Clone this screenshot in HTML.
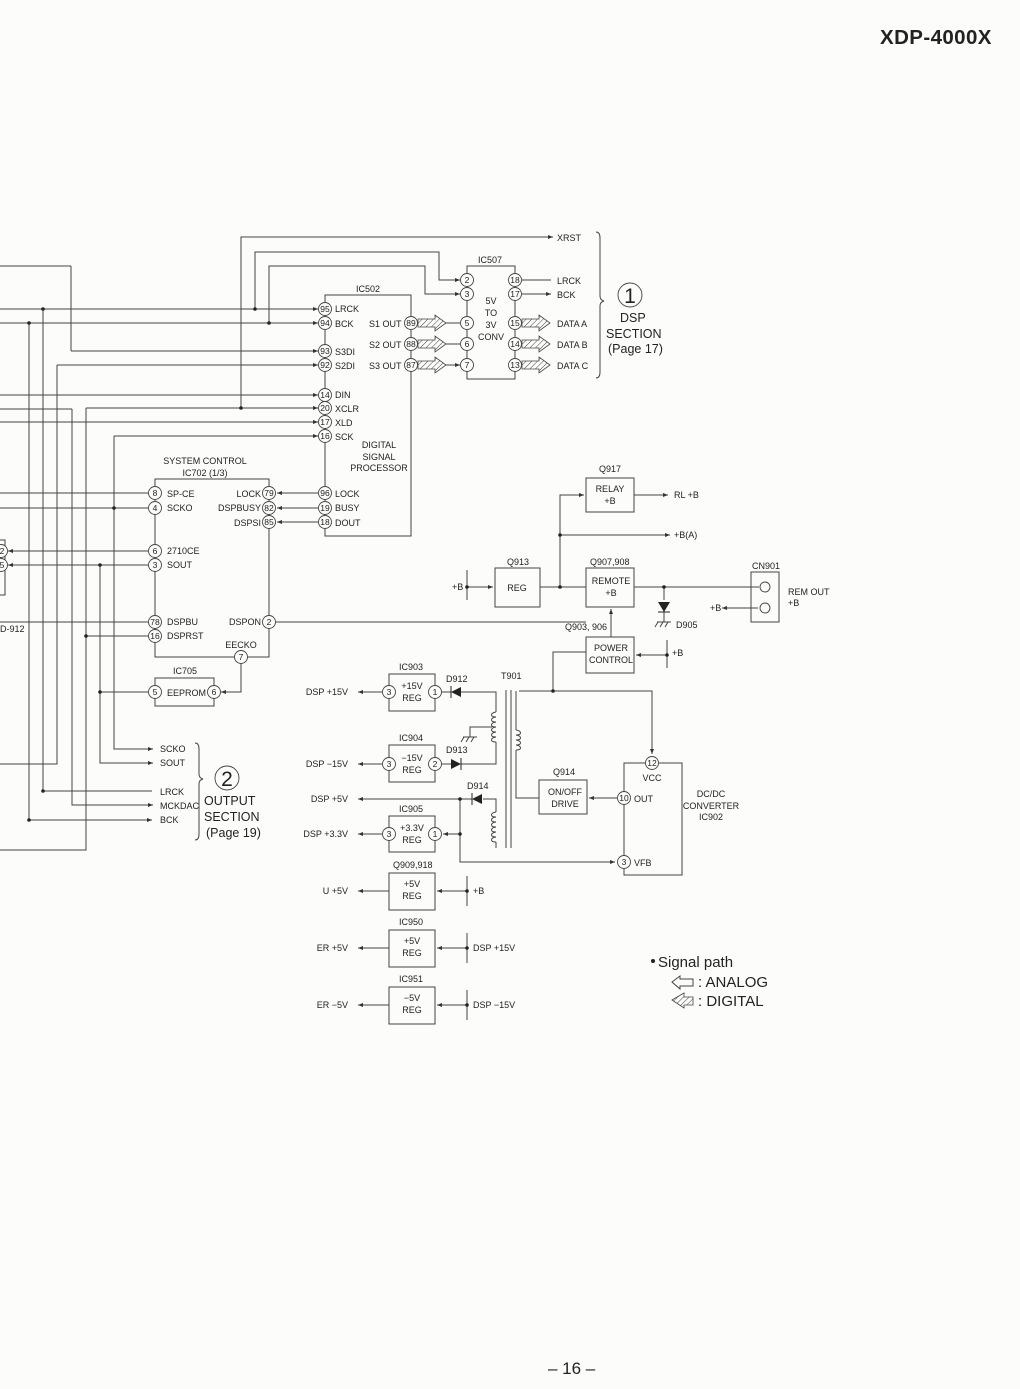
<!DOCTYPE html>
<html><head><meta charset="utf-8"><style>
html,body{margin:0;padding:0;background:#fcfcfa;}
svg{display:block}
text{font-family:"Liberation Sans",sans-serif;fill:#222;}
.s{font-size:9px}
.p{font-size:8.5px;text-anchor:middle}
</style></head><body>
<svg width="1020" height="1389" viewBox="0 0 1020 1389" xmlns="http://www.w3.org/2000/svg">
<defs>
<marker id="a" viewBox="0 0 10 10" refX="10" refY="5" markerWidth="5" markerHeight="5" orient="auto"><path d="M0,1 L10,5 L0,9 z" fill="#333"/></marker>
<pattern id="h" width="4" height="4" patternUnits="userSpaceOnUse" patternTransform="rotate(45)"><line x1="0" y1="0" x2="0" y2="4" stroke="#444" stroke-width="1"/></pattern>
<g id="da"><path d="M0,-4 L17,-4 L17,-8 L28,0 L17,8 L17,4 L0,4 z" fill="url(#h)" stroke="#444" stroke-width="0.8"/></g>
</defs>
<g stroke="#444" stroke-width="1" fill="none">
<path d="M29,323 V820 M43,309 V791 M57,365 V764 H0 M72,409 V805 H152 M0,409 H72 M86,408 V850 H0 M100,565 V763 H152 M114,436 V749 H152 M71,266 V351 M0,266 H71"/>
<path d="M43,791 H152 M29,820 H152" marker-end="url(#a)"/>
<path d="M0,309 H318" marker-end="url(#a)"/>
<path d="M0,323 H318" marker-end="url(#a)"/>
<path d="M71,351 H318" marker-end="url(#a)"/>
<path d="M57,365 H318" marker-end="url(#a)"/>
<path d="M0,395 H318" marker-end="url(#a)"/>
<path d="M86,408 H318" marker-end="url(#a)"/>
<path d="M0,422 H318" marker-end="url(#a)"/>
<path d="M114,436 H318" marker-end="url(#a)"/>
<path d="M241,408 V237 H553" marker-end="url(#a)"/>
<path d="M255,309 V252 H439 V280 H460" marker-end="url(#a)"/>
<path d="M269,323 V266 H425 V294 H460" marker-end="url(#a)"/>
<path d="M114,749 H153" marker-end="url(#a)"/>
<path d="M100,763 H153" marker-end="url(#a)"/>
<path d="M72,805 H153" marker-end="url(#a)"/>
<path d="M325,295 H411 V536 H325 z"/>
<path d="M467,266 H515 V379 H467 z"/>
<path d="M522,280 H551 M522,294 H551" marker-end="url(#a)"/>
<path d="M446,323 H460 M446,344 H460 M446,365 H460" marker-end="url(#a)"/>
<path d="M155,479 H269 V657 H155 z"/>
<path d="M0,493 H148 M0,508 H148 M0,622 H148 M86,636 H148"/>
<path d="M148,551 H8" marker-end="url(#a)"/>
<path d="M148,565 H8" marker-end="url(#a)"/>
<path d="M318,493 H277" marker-end="url(#a)"/>
<path d="M318,508 H277" marker-end="url(#a)"/>
<path d="M318,522 H277" marker-end="url(#a)"/>
<path d="M276,622 H586"/>
<path d="M241,664 V692 H221" marker-end="url(#a)"/>
<path d="M155,678 H214 V706 H155 z"/>
<path d="M100,692 H148"/>
<path d="M0,540 H5 V595 H0"/>
<path d="M586,478 H634 V512 H586 z"/>
<path d="M560,587 V495 H584" marker-end="url(#a)"/>
<path d="M634,495 H668" marker-end="url(#a)"/>
<path d="M560,535 H670" marker-end="url(#a)"/>
<path d="M495,568 H540 V607 H495 z"/>
<path d="M586,568 H634 V607 H586 z"/>
<path d="M467,570 V600"/>
<path d="M467,587 H493" marker-end="url(#a)"/>
<path d="M540,587 H586 M634,587 H759"/>
<path d="M751,572 H779 V622 H751 z"/>
<path d="M758,608 H722" marker-end="url(#a)"/>
<path d="M664,587 V600 M664,612 V622 M657,622 H671 M658,622 L655,627 M663,622 L660,627 M668,622 L665,627"/>
<path d="M586,637 H634 V673 H586 z"/>
<path d="M611,637 V609" marker-end="url(#a)"/>
<path d="M667,640 V668"/>
<path d="M667,655 H636" marker-end="url(#a)"/>
<path d="M586,652 H553 V691 M519,691 H652 V754" marker-end="url(#a)"/>
<path d="M624,763 H682 V875 H624 z"/>
<path d="M539,780 H587 V814 H539 z"/>
<path d="M617,798 H589" marker-end="url(#a)"/>
<path d="M539,798 H516 V750 M516,730 V691"/>
<path d="M516,730 c6,1 6,5 0,5 c6,1 6,5 0,5 c6,1 6,5 0,5 c6,1 6,5 0,5"/>
<path d="M506,690 V848 M511,690 V848"/>
<path d="M389,674 H435 V711 H389 z"/>
<path d="M389,745 H435 V782 H389 z"/>
<path d="M389,816 H435 V852 H389 z"/>
<path d="M389,873 H435 V910 H389 z"/>
<path d="M389,930 H435 V967 H389 z"/>
<path d="M389,987 H435 V1024 H389 z"/>
<path d="M441,692 H451 M461,692 H496 V712 M496,742 V764 H461 M451,764 H441"/>
<path d="M496,712 c-6,1 -6,5 0,5 c-6,1 -6,5 0,5 c-6,1 -6,5 0,5 c-6,1 -6,5 0,5 c-6,1 -6,5 0,5 c-6,1 -6,5 0,5"/>
<path d="M492,727 H470 V737 M463,737 H477 M464,737 L461,742 M469,737 L466,742 M474,737 L471,742"/>
<path d="M483,799 H496 V812 M496,842 V848"/>
<path d="M496,812 c-6,1 -6,5 0,5 c-6,1 -6,5 0,5 c-6,1 -6,5 0,5 c-6,1 -6,5 0,5 c-6,1 -6,5 0,5 c-6,1 -6,5 0,5"/>
<path d="M472,799 H358" marker-end="url(#a)"/>
<path d="M460,799 V862 H615" marker-end="url(#a)"/>
<path d="M460,834 H443" marker-end="url(#a)"/>
<path d="M382,692 H358" marker-end="url(#a)"/>
<path d="M382,764 H358" marker-end="url(#a)"/>
<path d="M382,834 H358" marker-end="url(#a)"/>
<path d="M389,891 H358" marker-end="url(#a)"/>
<path d="M389,948 H358" marker-end="url(#a)"/>
<path d="M389,1005 H358" marker-end="url(#a)"/>
<path d="M467,891 H437" marker-end="url(#a)"/>
<path d="M467,948 H437" marker-end="url(#a)"/>
<path d="M467,1005 H437" marker-end="url(#a)"/>
<path d="M467,876 V906 M467,933 V963 M467,990 V1020"/>
<path d="M596,232 q4,0 4,6 V296 q0,4 4,5 q-4,1 -4,5 V372 q0,6 -4,6"/>
<path d="M195,743 q4,0 4,6 V774 q0,4 4,5 q-4,1 -4,5 V834 q0,6 -4,6"/>
<path d="M672,982 L680,976 V979 H693 V986 H680 V989 z"/>
</g>
<g fill="#222">
<circle cx="43" cy="309" r="1.8"/><circle cx="29" cy="323" r="1.8"/><circle cx="255" cy="309" r="1.8"/><circle cx="269" cy="323" r="1.8"/>
<circle cx="241" cy="408" r="1.8"/><circle cx="114" cy="508" r="1.8"/><circle cx="100" cy="565" r="1.8"/><circle cx="86" cy="636" r="1.8"/><circle cx="100" cy="692" r="1.8"/><circle cx="43" cy="791" r="1.8"/><circle cx="29" cy="820" r="1.8"/>
<circle cx="560" cy="535" r="1.8"/><circle cx="560" cy="587" r="1.8"/><circle cx="664" cy="587" r="1.8"/><circle cx="467" cy="587" r="1.8"/><circle cx="667" cy="655" r="1.8"/><circle cx="553" cy="691" r="1.8"/>
<circle cx="460" cy="799" r="1.8"/><circle cx="460" cy="834" r="1.8"/><circle cx="467" cy="891" r="1.8"/><circle cx="467" cy="948" r="1.8"/><circle cx="467" cy="1005" r="1.8"/>
<path d="M451,692 L461,687 V697 z M461,764 L451,759 V769 z M472,799 L482,794 V804 z M664,612 L658,602 H670 z"/>
<path d="M451,686 V698 M461,758 V770 M472,793 V805 M658,612 H670" stroke="#222"/>
<circle cx="653" cy="961" r="2"/>
</g>
<path d="M672,1000 L684,993 L684,997 H693 V1005 H684 L684,1008 z" fill="url(#h)" stroke="#444" stroke-width="0.8"/>
<use href="#da" x="418" y="323"/><use href="#da" x="418" y="344"/><use href="#da" x="418" y="365"/>
<use href="#da" x="522" y="323"/><use href="#da" x="522" y="344"/><use href="#da" x="522" y="365"/>
<g fill="#fcfcfa" stroke="#444" stroke-width="0.9">
<circle cx="325" cy="309" r="6.5"/><circle cx="325" cy="323" r="6.5"/><circle cx="325" cy="351" r="6.5"/><circle cx="325" cy="365" r="6.5"/><circle cx="325" cy="395" r="6.5"/><circle cx="325" cy="408" r="6.5"/><circle cx="325" cy="422" r="6.5"/><circle cx="325" cy="436" r="6.5"/><circle cx="325" cy="493" r="6.5"/><circle cx="325" cy="508" r="6.5"/><circle cx="325" cy="522" r="6.5"/>
<circle cx="411" cy="323" r="6.5"/><circle cx="411" cy="344" r="6.5"/><circle cx="411" cy="365" r="6.5"/>
<circle cx="467" cy="280" r="6.5"/><circle cx="467" cy="294" r="6.5"/><circle cx="467" cy="323" r="6.5"/><circle cx="467" cy="344" r="6.5"/><circle cx="467" cy="365" r="6.5"/>
<circle cx="515" cy="280" r="6.5"/><circle cx="515" cy="294" r="6.5"/><circle cx="515" cy="323" r="6.5"/><circle cx="515" cy="344" r="6.5"/><circle cx="515" cy="365" r="6.5"/>
<circle cx="155" cy="493" r="6.5"/><circle cx="155" cy="508" r="6.5"/><circle cx="155" cy="551" r="6.5"/><circle cx="155" cy="565" r="6.5"/><circle cx="155" cy="622" r="6.5"/><circle cx="155" cy="636" r="6.5"/>
<circle cx="269" cy="493" r="6.5"/><circle cx="269" cy="508" r="6.5"/><circle cx="269" cy="522" r="6.5"/><circle cx="269" cy="622" r="6.5"/><circle cx="241" cy="657" r="6.5"/>
<circle cx="155" cy="692" r="6.5"/><circle cx="214" cy="692" r="6.5"/><circle cx="1" cy="551" r="6.5"/><circle cx="1" cy="565" r="6.5"/>
<circle cx="389" cy="692" r="6.5"/><circle cx="435" cy="692" r="6.5"/><circle cx="389" cy="764" r="6.5"/><circle cx="435" cy="764" r="6.5"/><circle cx="389" cy="834" r="6.5"/><circle cx="435" cy="834" r="6.5"/>
<circle cx="652" cy="763" r="6.5"/><circle cx="624" cy="798" r="6.5"/><circle cx="624" cy="862" r="6.5"/>
<circle cx="765" cy="587" r="5"/><circle cx="765" cy="608" r="5"/>
<circle cx="630" cy="295" r="12"/><circle cx="227" cy="778" r="12"/>
</g>
<g class="p">
<text x="325" y="312">95</text><text x="325" y="326">94</text><text x="325" y="354">93</text><text x="325" y="368">92</text><text x="325" y="398">14</text><text x="325" y="411">20</text><text x="325" y="425">17</text><text x="325" y="439">16</text><text x="325" y="496">96</text><text x="325" y="511">19</text><text x="325" y="525">18</text>
<text x="411" y="326">89</text><text x="411" y="347">88</text><text x="411" y="368">87</text>
<text x="467" y="283">2</text><text x="467" y="297">3</text><text x="467" y="326">5</text><text x="467" y="347">6</text><text x="467" y="368">7</text>
<text x="515" y="283">18</text><text x="515" y="297">17</text><text x="515" y="326">15</text><text x="515" y="347">14</text><text x="515" y="368">13</text>
<text x="155" y="496">8</text><text x="155" y="511">4</text><text x="155" y="554">6</text><text x="155" y="568">3</text><text x="155" y="625">78</text><text x="155" y="639">16</text>
<text x="269" y="496">79</text><text x="269" y="511">82</text><text x="269" y="525">85</text><text x="269" y="625">2</text><text x="241" y="660">7</text>
<text x="155" y="695">5</text><text x="214" y="695">6</text><text x="2" y="554">2</text><text x="2" y="568">5</text>
<text x="389" y="695">3</text><text x="435" y="695">1</text><text x="389" y="767">3</text><text x="435" y="767">2</text><text x="389" y="837">3</text><text x="435" y="837">1</text>
<text x="652" y="766">12</text><text x="624" y="801">10</text><text x="624" y="865">3</text>
<text x="630" y="303" style="font-size:21px">1</text><text x="227" y="786" style="font-size:21px">2</text>
</g>
<g class="s">
<text x="356" y="292">IC502</text><text x="478" y="263">IC507</text>
<text x="335" y="312">LRCK</text><text x="335" y="327">BCK</text><text x="335" y="355">S3DI</text><text x="335" y="369">S2DI</text><text x="335" y="398">DIN</text><text x="335" y="412">XCLR</text><text x="335" y="426">XLD</text><text x="335" y="440">SCK</text><text x="335" y="497">LOCK</text><text x="335" y="511">BUSY</text><text x="335" y="526">DOUT</text>
<text x="369" y="327">S1 OUT</text><text x="369" y="348">S2 OUT</text><text x="369" y="369">S3 OUT</text>
<text x="379" y="448" text-anchor="middle">DIGITAL</text><text x="379" y="460" text-anchor="middle">SIGNAL</text><text x="379" y="471" text-anchor="middle">PROCESSOR</text>
<text x="491" y="304" text-anchor="middle">5V</text><text x="491" y="316" text-anchor="middle">TO</text><text x="491" y="328" text-anchor="middle">3V</text><text x="491" y="340" text-anchor="middle">CONV</text>
<text x="557" y="241">XRST</text><text x="557" y="284">LRCK</text><text x="557" y="298">BCK</text><text x="557" y="327">DATA A</text><text x="557" y="348">DATA B</text><text x="557" y="369">DATA C</text>
<text x="205" y="464" text-anchor="middle">SYSTEM CONTROL</text><text x="205" y="476" text-anchor="middle">IC702 (1/3)</text>
<text x="167" y="497">SP-CE</text><text x="167" y="511">SCKO</text><text x="167" y="554">2710CE</text><text x="167" y="568">SOUT</text><text x="167" y="625">DSPBU</text><text x="167" y="639">DSPRST</text>
<text x="261" y="497" text-anchor="end">LOCK</text><text x="261" y="511" text-anchor="end">DSPBUSY</text><text x="261" y="526" text-anchor="end">DSPSI</text><text x="261" y="625" text-anchor="end">DSPON</text><text x="241" y="648" text-anchor="middle">EECKO</text>
<text x="173" y="674">IC705</text><text x="167" y="696">EEPROM</text><text x="0" y="632">D-912</text>
<text x="160" y="752">SCKO</text><text x="160" y="766">SOUT</text><text x="160" y="795">LRCK</text><text x="160" y="809">MCKDAC</text><text x="160" y="823">BCK</text>
<text x="599" y="472">Q917</text><text x="610" y="492" text-anchor="middle">RELAY</text><text x="610" y="504" text-anchor="middle">+B</text>
<text x="674" y="498">RL +B</text><text x="674" y="538">+B(A)</text>
<text x="507" y="565">Q913</text><text x="517" y="591" text-anchor="middle">REG</text><text x="452" y="590">+B</text>
<text x="590" y="565">Q907,908</text><text x="611" y="584" text-anchor="middle">REMOTE</text><text x="611" y="596" text-anchor="middle">+B</text>
<text x="752" y="569">CN901</text><text x="788" y="595">REM OUT</text><text x="788" y="606">+B</text><text x="710" y="611">+B</text>
<text x="676" y="628">D905</text><text x="565" y="630">Q903, 906</text>
<text x="611" y="651" text-anchor="middle">POWER</text><text x="611" y="663" text-anchor="middle">CONTROL</text><text x="672" y="656">+B</text>
<text x="501" y="679">T901</text>
<text x="399" y="670">IC903</text><text x="412" y="689" text-anchor="middle">+15V</text><text x="412" y="701" text-anchor="middle">REG</text><text x="446" y="682">D912</text>
<text x="399" y="741">IC904</text><text x="412" y="761" text-anchor="middle">−15V</text><text x="412" y="773" text-anchor="middle">REG</text><text x="446" y="753">D913</text>
<text x="467" y="789">D914</text>
<text x="399" y="812">IC905</text><text x="412" y="831" text-anchor="middle">+3.3V</text><text x="412" y="843" text-anchor="middle">REG</text>
<text x="393" y="868">Q909,918</text><text x="412" y="887" text-anchor="middle">+5V</text><text x="412" y="899" text-anchor="middle">REG</text>
<text x="399" y="925">IC950</text><text x="412" y="944" text-anchor="middle">+5V</text><text x="412" y="956" text-anchor="middle">REG</text>
<text x="399" y="982">IC951</text><text x="412" y="1001" text-anchor="middle">−5V</text><text x="412" y="1013" text-anchor="middle">REG</text>
<text x="348" y="695" text-anchor="end">DSP +15V</text><text x="348" y="767" text-anchor="end">DSP −15V</text><text x="348" y="802" text-anchor="end">DSP +5V</text><text x="348" y="837" text-anchor="end">DSP +3.3V</text>
<text x="348" y="894" text-anchor="end">U +5V</text><text x="348" y="951" text-anchor="end">ER +5V</text><text x="348" y="1008" text-anchor="end">ER −5V</text>
<text x="473" y="894">+B</text><text x="473" y="951">DSP +15V</text><text x="473" y="1008">DSP −15V</text>
<text x="553" y="775">Q914</text><text x="565" y="795" text-anchor="middle">ON/OFF</text><text x="565" y="807" text-anchor="middle">DRIVE</text>
<text x="652" y="781" text-anchor="middle">VCC</text><text x="634" y="802">OUT</text><text x="634" y="866">VFB</text>
<text x="711" y="797" text-anchor="middle">DC/DC</text><text x="711" y="809" text-anchor="middle">CONVERTER</text><text x="711" y="820" text-anchor="middle">IC902</text>
</g>
<g style="font-size:12.5px">
<text x="620" y="322">DSP</text><text x="606" y="338">SECTION</text><text x="608" y="353">(Page 17)</text>
<text x="204" y="805">OUTPUT</text><text x="204" y="821">SECTION</text><text x="206" y="837">(Page 19)</text>
</g>
<g style="font-size:15px">
<text x="658" y="967">Signal path</text><text x="698" y="987">: ANALOG</text><text x="698" y="1006">: DIGITAL</text>
</g>
<text x="880" y="44" style="font-size:20.5px;font-weight:bold;letter-spacing:0.4px">XDP-4000X</text>
<text x="548" y="1374" style="font-size:17px">– 16 –</text>
</svg>
</body></html>
